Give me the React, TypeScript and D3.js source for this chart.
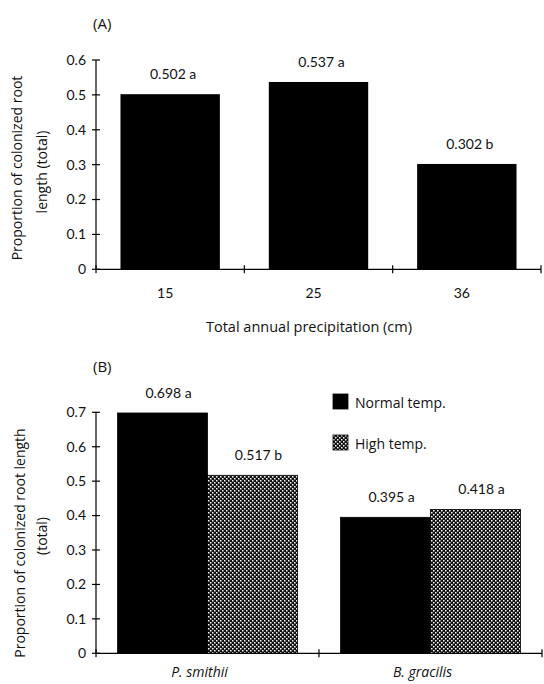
import React from "react";
import * as d3 from "d3";

// Panel A data
const precipCategories = ["15", "25", "36"];
const precipValues = [0.502, 0.537, 0.302];
const precipLetters = ["a", "a", "b"];
const yTicksA = [0, 0.1, 0.2, 0.3, 0.4, 0.5, 0.6];

// Panel B data
const speciesCategories = ["P. smithii", "B. gracilis"];
const tempSeries = ["Normal temp.", "High temp."];
const normalValues = [0.698, 0.395];
const highValues = [0.517, 0.418];
const normalLetters = ["a", "a"];
const highLetters = ["b", "a"];
const yTicksB = [0, 0.1, 0.2, 0.3, 0.4, 0.5, 0.6, 0.7];

const FONT = "Lato, 'Open Sans', sans-serif";
const TITLE_FONT = "'Open Sans', Lato, sans-serif";
const fmt = (d: number) => (d === 0 ? "0" : d3.format(".1f")(d));

export default function App() {
  const W = 544;
  const H = 684;

  // ---- Panel A scales
  const xA = d3.scaleBand<string>().domain(precipCategories).range([96, 541]).paddingInner(0.33).paddingOuter(0.165);
  const xAcat = d3.scaleBand<string>().domain(precipCategories).range([96, 541]).padding(0);
  const yA = d3.scaleLinear().domain([0, 0.6]).range([269.3, 60]);

  // ---- Panel B scales
  const xB = d3.scaleBand<string>().domain(speciesCategories).range([96, 542]).padding(0);
  const xB1 = d3.scaleBand<string>().domain(tempSeries).range([0, xB.bandwidth()]).paddingInner(0).paddingOuter(0.24);
  const yB = d3.scaleLinear().domain([0, 0.7]).range([653.3, 412.3]);

  const seriesValues = [normalValues, highValues];
  const seriesLetters = [normalLetters, highLetters];
  const seriesFill = ["#000", "url(#dots)"];

  const boundariesA = [...precipCategories.map((c) => xAcat(c) as number), 541];
  const boundariesB = [...speciesCategories.map((c) => xB(c) as number), 542];

  return (
    <svg width={W} height={H} style={{ position: "absolute", left: 0, top: 0, background: "#fff" }} fontFamily={FONT}>
      <defs>
        <pattern id="dots" width={4} height={4} patternUnits="userSpaceOnUse">
          <rect width={4} height={4} fill="#111" />
          <rect x={0} y={0} width={1.5} height={1.5} fill="#fff" />
          <rect x={2} y={2} width={1.5} height={1.5} fill="#fff" />
        </pattern>
      </defs>

      {/* ================= Panel A ================= */}
      <text x={93} y={29} fontSize={15} fontFamily={TITLE_FONT} fill="#111">(A)</text>

      {precipCategories.map((c, i) => (
        <rect key={c} x={xA(c)} y={yA(precipValues[i])} width={xA.bandwidth()} height={yA(0) - yA(precipValues[i])} fill="#000" />
      ))}
      {precipCategories.map((c, i) => (
        <text key={"l" + c} x={(xA(c) as number) + xA.bandwidth() / 2 + 3} y={yA(precipValues[i]) - 15} fontSize={14} textAnchor="middle" fill="#111">
          {`${d3.format(".3f")(precipValues[i])} ${precipLetters[i]}`}
        </text>
      ))}

      {/* axes A */}
      <line x1={96} x2={96} y1={yA(0.6)} y2={yA(0)} stroke="#000" strokeWidth={1.2} />
      <line x1={96} x2={541} y1={yA(0)} y2={yA(0)} stroke="#000" strokeWidth={1.2} />
      {yTicksA.map((t) => (
        <g key={t}>
          <line x1={92} x2={100} y1={yA(t)} y2={yA(t)} stroke="#000" strokeWidth={1.2} />
          <text x={86} y={yA(t)} dy="0.35em" fontSize={14} textAnchor="end" fill="#111">{fmt(t)}</text>
        </g>
      ))}
      {boundariesA.map((b, i) => (
        <line key={i} x1={b} x2={b} y1={yA(0) - 4} y2={yA(0) + 4} stroke="#000" strokeWidth={1.2} />
      ))}
      {precipCategories.map((c) => (
        <text key={"t" + c} x={(xAcat(c) as number) + xAcat.bandwidth() / 2 - 5} y={298} fontSize={14} textAnchor="middle" fill="#111">{c}</text>
      ))}
      <text x={309} y={332} fontSize={14.5} fontFamily={TITLE_FONT} textAnchor="middle" fill="#111">Total annual precipitation (cm)</text>
      <text transform={`translate(22,168) rotate(-90)`} fontSize={14} fontFamily={TITLE_FONT} textAnchor="middle" fill="#111">Proportion of colonized root</text>
      <text transform={`translate(47,172) rotate(-90)`} fontSize={14} fontFamily={TITLE_FONT} textAnchor="middle" fill="#111">length (total)</text>

      {/* ================= Panel B ================= */}
      <text x={93} y={372} fontSize={15} fontFamily={TITLE_FONT} fill="#111">(B)</text>

      {speciesCategories.map((c, i) => (
        <g key={c} transform={`translate(${xB(c)},0)`}>
          {tempSeries.map((s, j) => (
            <rect key={s} x={xB1(s)} y={yB(seriesValues[j][i])} width={xB1.bandwidth()} height={yB(0) - yB(seriesValues[j][i])} fill={seriesFill[j]} stroke="#000" strokeWidth={0.8} />
          ))}
          {tempSeries.map((s, j) => (
            <text key={"l" + s} x={(xB1(s) as number) + xB1.bandwidth() / 2 + 6} y={yB(seriesValues[j][i]) - 15} fontSize={14} textAnchor="middle" fill="#111">
              {`${d3.format(".3f")(seriesValues[j][i])} ${seriesLetters[j][i]}`}
            </text>
          ))}
        </g>
      ))}

      {/* axes B */}
      <line x1={96} x2={96} y1={yB(0.7)} y2={yB(0)} stroke="#000" strokeWidth={1.2} />
      <line x1={96} x2={542} y1={yB(0)} y2={yB(0)} stroke="#000" strokeWidth={1.2} />
      {yTicksB.map((t) => (
        <g key={t}>
          <line x1={92} x2={100} y1={yB(t)} y2={yB(t)} stroke="#000" strokeWidth={1.2} />
          <text x={86} y={yB(t)} dy="0.35em" fontSize={14} textAnchor="end" fill="#111">{fmt(t)}</text>
        </g>
      ))}
      {boundariesB.map((b, i) => (
        <line key={i} x1={b} x2={b} y1={yB(0) - 4} y2={yB(0) + 4} stroke="#000" strokeWidth={1.2} />
      ))}
      {speciesCategories.map((c) => (
        <text key={"t" + c} x={(xB(c) as number) + xB.bandwidth() / 2 - 8} y={677} fontSize={14} fontFamily={TITLE_FONT} fontStyle="italic" textAnchor="middle" fill="#111">{c}</text>
      ))}
      <text transform={`translate(25,543) rotate(-90)`} fontSize={14} fontFamily={TITLE_FONT} textAnchor="middle" fill="#111">Proportion of colonized root length</text>
      <text transform={`translate(47,536) rotate(-90)`} fontSize={14} fontFamily={TITLE_FONT} textAnchor="middle" fill="#111">(total)</text>

      {/* legend */}
      {tempSeries.map((s, j) => (
        <g key={s} transform={`translate(333,${394 + j * 41})`}>
          <rect x={0} y={0} width={15} height={15} fill={seriesFill[j]} stroke="#000" strokeWidth={0.8} />
          <text x={22} y={14} fontSize={14} fontFamily={TITLE_FONT} fill="#111">{s}</text>
        </g>
      ))}
    </svg>
  );
}
